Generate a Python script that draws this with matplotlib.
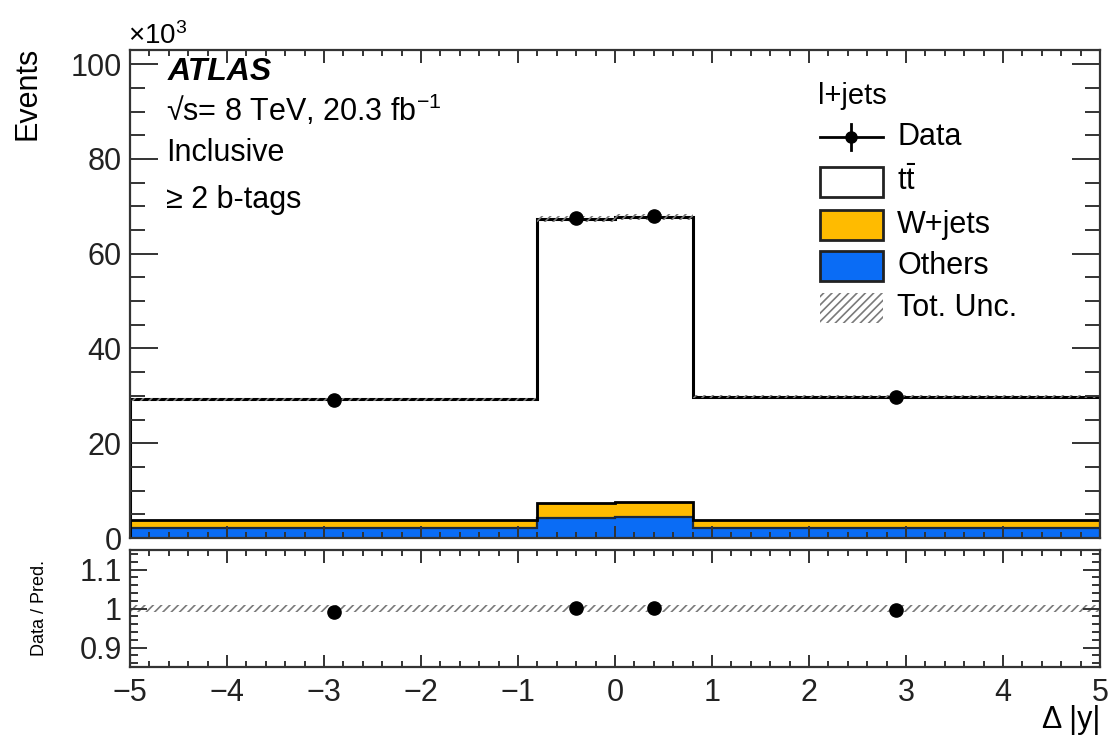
import numpy as np
import matplotlib
matplotlib.use("Agg")
import matplotlib.pyplot as plt
from matplotlib.ticker import MultipleLocator, FixedLocator, FuncFormatter
from matplotlib.patches import Rectangle
from matplotlib.lines import Line2D

plt.rcParams['font.family'] = ['Liberation Sans', 'DejaVu Sans']
plt.rcParams['mathtext.fontset'] = 'custom'
plt.rcParams['mathtext.rm'] = 'Liberation Sans'
plt.rcParams['mathtext.it'] = 'Liberation Sans:italic'
plt.rcParams['mathtext.bf'] = 'Liberation Sans:bold'
plt.rcParams['hatch.linewidth'] = 1.2

# Binning in Delta|y| and event yields (in units of 10^3 events)
edges = np.array([-5.0, -0.8, 0.0, 0.8, 5.0])
data_x = [-2.9, -0.4, 0.4, 2.9]
others = np.array([2.2, 4.3, 4.4, 2.2])
wjets = np.array([1.5, 3.0, 3.2, 1.5])
ttbar = np.array([25.6, 60.1, 60.2, 26.1])
data = np.array([29.05, 67.5, 67.9, 29.72])
unc_rel = np.array([0.010, 0.009, 0.009, 0.010])

pred = others + wjets + ttbar
data_err = np.sqrt(data * 1e3) / 1e3
ratio = data / pred
ratio_err = data_err / pred

C_OTHERS = '#0a6cf5'
C_WJETS = '#ffbb00'
C_HATCH = '#7a7a7a'

W, H = 1113, 741
fig = plt.figure(figsize=(W / 100, H / 100), dpi=100)

def px_rect(x0, y0, x1, y1):
    return [x0 / W, 1 - y1 / H, (x1 - x0) / W, (y1 - y0) / H]

ax = fig.add_axes(px_rect(130, 50, 1100, 538))
axr = fig.add_axes(px_rect(130, 550, 1100, 667))

# ---- main panel: stacked histograms ----
lo1 = others
lo2 = others + wjets
ax.stairs(lo1, edges, baseline=0, fill=True, color=C_OTHERS, lw=0, zorder=1)
ax.stairs(lo2, edges, baseline=lo1, fill=True, color=C_WJETS, lw=0, zorder=1)
ax.stairs(pred, edges, baseline=lo2, fill=True, color='white', lw=0, zorder=1)
ax.stairs(lo1, edges, baseline=None, color='#1a2a40', lw=1.6, zorder=1.2)
ax.stairs(lo2, edges, baseline=None, color='black', lw=2.0, zorder=1.2)
ax.stairs(pred, edges, baseline=0, color='black', lw=2.2, zorder=1.3)

# total uncertainty band
ax.stairs(pred * (1 + unc_rel), edges, baseline=pred * (1 - unc_rel),
          fill=True, facecolor='none', edgecolor=C_HATCH, hatch='////',
          lw=0, zorder=1.4)

ax.errorbar(data_x, data, yerr=data_err, fmt='o', color='black', ms=9.5,
            elinewidth=2, capsize=0, zorder=3)

ax.set_xlim(-5, 5)
ax.set_ylim(0, 103)
ax.xaxis.set_major_locator(MultipleLocator(1))
ax.xaxis.set_minor_locator(MultipleLocator(0.2))
ax.yaxis.set_major_locator(MultipleLocator(20))
ax.yaxis.set_minor_locator(MultipleLocator(5))
ax.tick_params(axis='both', which='both', direction='in', top=True, right=True,
               width=1.4, colors='#333333')
ax.tick_params(axis='y', which='major', length=20, labelsize=22, pad=6,
               labelcolor='#222222')
ax.tick_params(axis='y', which='minor', length=11)
ax.tick_params(axis='x', which='major', length=9, labelbottom=False)
ax.tick_params(axis='x', which='minor', length=4.5)
for s in ax.spines.values():
    s.set_linewidth(1.6)
    s.set_color('#333333')
    s.set_zorder(4)

# labels and annotations
fig.text(28 / W, 1 - 47 / H, 'Events', rotation=90, ha='center', va='top', fontsize=22)
fig.text(128 / W, 1 - 44 / H, r'$\times$10$^{3}$', ha='left', va='baseline', fontsize=20)

ax.text(0.039, 0.955, 'ATLAS', transform=ax.transAxes, fontsize=23,
        fontweight='bold', fontstyle='italic', va='center', ha='left')
ax.text(0.037, 0.877, '√s= 8 TeV, 20.3 fb$^{-1}$', transform=ax.transAxes,
        fontsize=22, va='center', ha='left')
ax.text(0.037, 0.789, 'Inclusive', transform=ax.transAxes, fontsize=22,
        va='center', ha='left')
ax.text(0.037, 0.693, '≥ 2 b-tags', transform=ax.transAxes, fontsize=22,
        va='center', ha='left')

# legend
lx0, lx1, tx = 0.711, 0.776, 0.791
bh = 0.062
ax.text(0.709, 0.905, 'l+jets', transform=ax.transAxes, fontsize=21,
        va='center', ha='left')
rows = [0.822, 0.730, 0.641, 0.557, 0.471]
ax.add_line(Line2D([lx0, lx1], [rows[0]] * 2, transform=ax.transAxes,
                   color='black', lw=2))
ax.add_line(Line2D([(lx0 + lx1) / 2] * 2, [rows[0] - 0.026, rows[0] + 0.026],
                   transform=ax.transAxes, color='black', lw=2))
ax.add_line(Line2D([(lx0 + lx1) / 2], [rows[0]], transform=ax.transAxes,
                   marker='o', ms=8, color='black'))
for yc, fc in [(rows[1], 'white'), (rows[2], C_WJETS), (rows[3], C_OTHERS)]:
    ax.add_patch(Rectangle((lx0, yc - bh / 2), lx1 - lx0, bh, transform=ax.transAxes,
                           facecolor=fc, edgecolor='#222222', lw=2, zorder=5))
ax.add_patch(Rectangle((lx0, rows[4] - bh / 2), lx1 - lx0, bh, transform=ax.transAxes,
                       facecolor='none', edgecolor=C_HATCH, hatch='////', lw=0,
                       zorder=5))
for yc, lab in zip(rows, ['Data', r't$\bar{\mathrm{t}}$', 'W+jets', 'Others', 'Tot. Unc.']):
    ax.text(tx, yc, lab, transform=ax.transAxes, fontsize=22, va='center', ha='left')

# ---- ratio panel ----
axr.stairs(1 + unc_rel, edges, baseline=1 - unc_rel, fill=True, facecolor='none',
           edgecolor=C_HATCH, hatch='////', lw=0, zorder=1)
axr.errorbar(data_x, ratio, yerr=ratio_err, fmt='o', color='black', ms=9.5,
             elinewidth=2, capsize=0, zorder=3)
axr.set_xlim(-5, 5)
axr.set_ylim(0.85, 1.15)
axr.xaxis.set_major_locator(MultipleLocator(1))
axr.xaxis.set_minor_locator(MultipleLocator(0.2))
axr.yaxis.set_major_locator(FixedLocator([0.9, 1.0, 1.1]))
axr.yaxis.set_minor_locator(MultipleLocator(0.02))
axr.yaxis.set_major_formatter(FuncFormatter(lambda v, p: f'{v:g}'))
axr.tick_params(axis='both', which='both', direction='in', top=True, right=True,
                width=1.4, colors='#333333')
axr.tick_params(axis='y', which='major', length=12, labelsize=22, pad=6,
                labelcolor='#222222')
axr.tick_params(axis='y', which='minor', length=6)
axr.tick_params(axis='x', which='major', length=9, labelsize=22, pad=8,
                labelcolor='#222222')
axr.tick_params(axis='x', which='minor', length=4.5)
for s in axr.spines.values():
    s.set_linewidth(1.6)
    s.set_color('#333333')
    s.set_zorder(4)

fig.text(40 / W, 1 - 608 / H, 'Data / Pred.', rotation=90, ha='center',
         va='center', fontsize=13)
fig.text(1100 / W, 1 - 720 / H, 'Δ |y|', ha='right', va='center', fontsize=22)

fig.savefig('out.png', dpi=100)
